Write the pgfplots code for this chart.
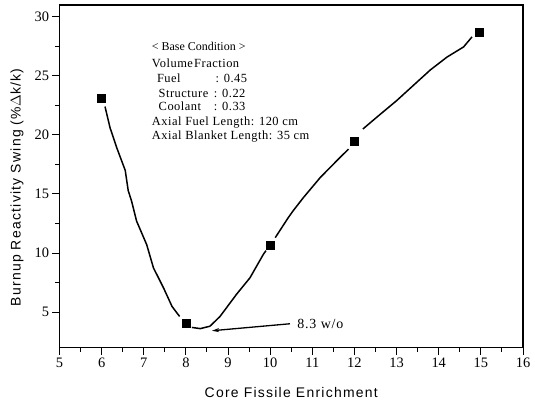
\documentclass[border=0pt]{standalone}
\usepackage{pgfplots}
\pgfplotsset{compat=1.18}
\usepackage{fontspec}
\setmainfont{Liberation Serif}
\newfontfamily\arialsp[LetterSpace=9]{Liberation Sans}
\newfontfamily\serifsp[LetterSpace=6]{Liberation Serif}
\newfontfamily\serifnote[LetterSpace=4]{Liberation Serif}
\usetikzlibrary{arrows.meta}
\begin{document}
\begin{tikzpicture}
\useasboundingbox (-59.5bp,-59.5bp) rectangle (475.5bp,347.5bp);
\begin{axis}[
  scale only axis,
  width=463.5bp, height=342.5bp,
  xmin=5, xmax=16, ymin=2, ymax=31,
  xtick={5,6,...,16}, ytick={5,10,...,30},
  minor x tick num=1, minor y tick num=1,
  tick align=outside,
  xtick pos=bottom, ytick pos=left,
  major tick length=7bp, minor tick length=4bp,
  every tick/.style={black, line width=1bp},
  axis line style={line width=1.3bp},
  /pgf/number format/assume math mode=true,
  tick label style={font=\fontsize{14.5}{16}\selectfont},
  xlabel={Core Fissile Enrichment},
  ylabel={Burnup Reactivity Swing (\%$\Delta$k/k)},
  label style={font=\fontsize{14}{16}\arialsp},
  xlabel style={at={(axis description cs:0.5,0)}, anchor=center, yshift=-45.5bp},
  ylabel style={at={(axis description cs:0,0.467)}, anchor=center, yshift=42.5bp},
  clip=false,
]
\addplot[black, line width=1.5bp, forget plot] coordinates {
 (6.08,22.4) (6.2,20.6) (6.36,18.9) (6.56,17.0) (6.63,15.3) (6.71,14.4) (6.83,12.7)
 (7.07,10.7) (7.23,8.74) (7.47,7.04) (7.67,5.48) (7.85,4.63)};
\addplot[black, line width=1.5bp, forget plot] coordinates {
 (8.14,3.7) (8.34,3.6) (8.57,3.8) (8.81,4.63) (9.2,6.5) (9.52,7.9) (9.84,9.9) (9.9,10.2)};
\addplot[black, line width=1.5bp, forget plot] coordinates {
 (10.12,11.3) (10.43,13.0) (10.55,13.6) (10.79,14.7) (11.19,16.4) (11.66,18.1) (11.86,18.8)};
\addplot[black, line width=1.5bp, forget plot] coordinates {
 (12.2,20.5) (12.53,21.5) (13.0,22.9) (13.4,24.2) (13.8,25.5) (14.2,26.6) (14.59,27.45) (14.79,28.3)};
\addplot[only marks, mark=square*, mark size=4bp, black] coordinates {
 (6,23.1) (8,4.06) (10,10.7) (12,19.5) (14.95,28.7)};
\draw[line width=1.3bp, -{Stealth[length=7bp,width=4bp]}] (axis cs:10.47,4.01) -- (axis cs:8.62,3.42);
\node[anchor=base west, inner sep=0pt, font=\fontsize{14}{16}\serifsp] at (axis cs:10.64,3.64) {8.3 w/o};
\node[anchor=base west, inner sep=0pt, font=\fontsize{12}{13}\selectfont] at (axis cs:7.19,27.17) {< Base Condition >};
\begin{scope}[every node/.style={anchor=base west, inner sep=0pt, font=\fontsize{12.5}{14}\serifnote}]
\node at (axis cs:7.19,25.75) {Volume\hspace{0.1em}Fraction};
\node at (axis cs:7.31,24.47) {Fuel};
\node at (axis cs:8.7,24.47) {: 0.45};
\node at (axis cs:7.35,23.2) {Structure};
\node at (axis cs:8.66,23.2) {: 0.22};
\node at (axis cs:7.35,22.07) {Coolant};
\node at (axis cs:8.66,22.07) {: 0.33};
\node at (axis cs:7.19,20.8) {Axial Fuel Length: 120 cm};
\node at (axis cs:7.19,19.57) {Axial Blanket Length: 35 cm};
\end{scope}
\end{axis}
\end{tikzpicture}
\end{document}
